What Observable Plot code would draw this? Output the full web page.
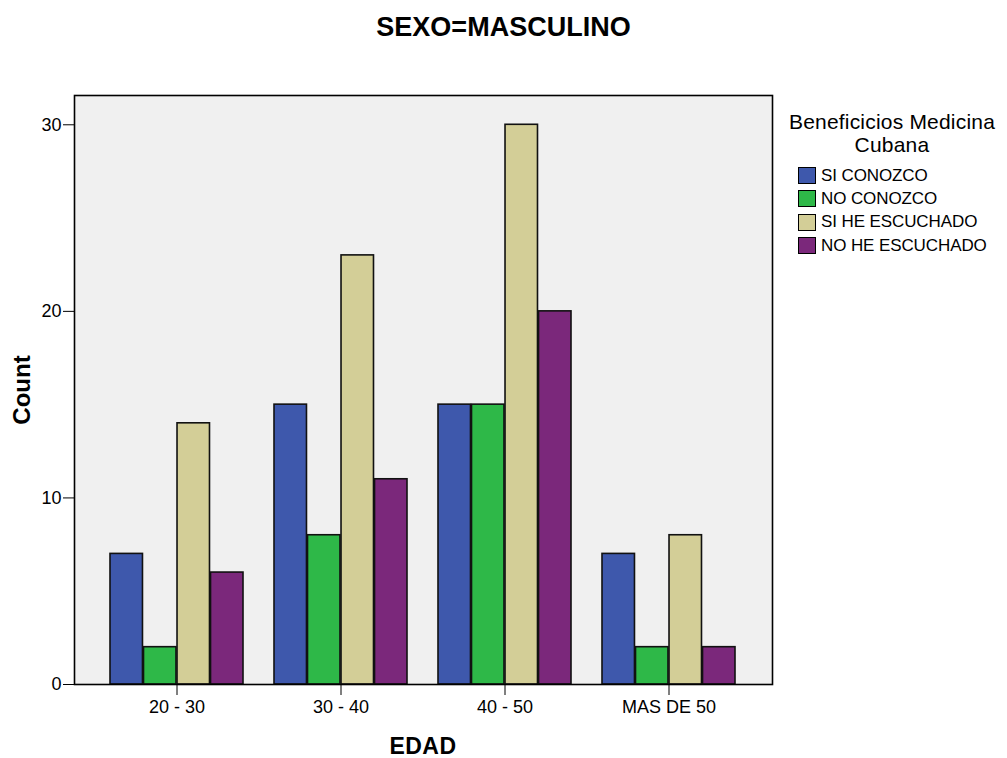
<!DOCTYPE html>
<html><head><meta charset="utf-8">
<script src="https://cdn.jsdelivr.net/npm/d3@7"></script>
<script src="https://cdn.jsdelivr.net/npm/@observablehq/plot@0.6"></script>
<style>
body{margin:0;background:#fff;font-family:"Liberation Sans",Arial,sans-serif;}
#wrap{position:relative;width:1007px;height:758px;overflow:hidden;}
#chart{position:absolute;left:0;top:0;}
#title{position:absolute;left:0;top:12px;width:1007px;text-align:center;font-weight:bold;font-size:27px;color:#000;}
#ylab{position:absolute;left:22px;top:390px;transform:translate(-50%,-50%) rotate(-90deg);font-weight:bold;font-size:24px;line-height:24px;white-space:nowrap;}
#xlab{position:absolute;left:423px;top:746px;transform:translate(-50%,-50%);font-weight:bold;font-size:23px;line-height:20px;letter-spacing:0.5px;}
#legend{position:absolute;left:780px;top:110px;width:228px;}
#legend .lt{text-align:center;font-size:21px;line-height:23px;margin-bottom:8px;margin-left:-4px;letter-spacing:0.2px;}
#legend .it{display:flex;align-items:center;height:23.3px;font-size:17px;letter-spacing:-0.1px;}
#legend .sw{width:16px;height:15px;border:1.5px solid #000;margin-left:18px;margin-right:5px;}
</style>
</head><body>
<div id="wrap">
  <div id="chart"></div>
  <div id="title">SEXO=MASCULINO</div>
  <div id="ylab">Count</div>
  <div id="xlab">EDAD</div>
  <div id="legend"></div>
</div>
<script>
const edadCategories = ["20 - 30", "30 - 40", "40 - 50", "MAS DE 50"];
const seriesNames = ["SI CONOZCO", "NO CONOZCO", "SI HE ESCUCHADO", "NO HE ESCUCHADO"];
const siConozco = [7, 15, 15, 7];
const noConozco = [2, 8, 15, 2];
const siHeEscuchado = [14, 23, 30, 8];
const noHeEscuchado = [6, 11, 20, 2];
const seriesColors = ["#3e58ac", "#2eb848", "#d3ce97", "#7b287b"];
const yTicks = [0, 10, 20, 30];
const legendTitle = ["Beneficicios Medicina", "Cubana"];

const seriesValues = [siConozco, noConozco, siHeEscuchado, noHeEscuchado];
const data = [];
edadCategories.forEach((edad, i) => {
  seriesNames.forEach((s, j) => data.push({edad, serie: s, count: seriesValues[j][i]}));
});

const W = 1007, H = 758, mL = 74, mR = 235, mT = 95, mB = 74;
const xOptions = {type: "band", domain: edadCategories, range: [mL, W - mR], paddingInner: 0.186, paddingOuter: 0.2125};
const bw = Plot.scale({x: xOptions}).bandwidth;
const sub = bw / seriesNames.length;

const chart = Plot.plot({
  width: W,
  height: H,
  marginLeft: mL,
  marginRight: mR,
  marginTop: mT,
  marginBottom: mB,
  style: {fontFamily: "'Liberation Sans', Arial, sans-serif", fontSize: "18px", color: "#000", background: "transparent"},
  x: {domain: edadCategories, paddingInner: 0.186, paddingOuter: 0.2125, label: null, tickSize: 11, tickPadding: 5},
  y: {domain: [0, 31.57], ticks: yTicks, tickSize: 11, tickPadding: 2, label: null},
  color: {domain: seriesNames, range: seriesColors},
  marks: [
    Plot.frame({fill: "#f0f0f0", stroke: "none"}),
    ...seriesNames.map((s, j) => Plot.barY(data.filter(d => d.serie === s), {
      x: "edad", y: "count", fill: "serie", stroke: "#111", strokeWidth: 1.6,
      insetLeft: j * sub, insetRight: (seriesNames.length - 1 - j) * sub
    })),
    Plot.frame({stroke: "#000", strokeWidth: 1.6})
  ]
});
document.getElementById("chart").appendChild(chart);

const legend = document.getElementById("legend");
legendTitle.forEach(line => {
  const lt = document.createElement("div");
  lt.className = "lt";
  lt.style.marginBottom = line === legendTitle[legendTitle.length - 1] ? "8px" : "0";
  lt.textContent = line;
  legend.appendChild(lt);
});
seriesNames.forEach((s, i) => {
  const it = document.createElement("div");
  it.className = "it";
  const sw = document.createElement("div");
  sw.className = "sw";
  sw.style.background = seriesColors[i];
  it.appendChild(sw);
  const t = document.createElement("span");
  t.textContent = s;
  it.appendChild(t);
  legend.appendChild(it);
});
</script>
</body></html>
